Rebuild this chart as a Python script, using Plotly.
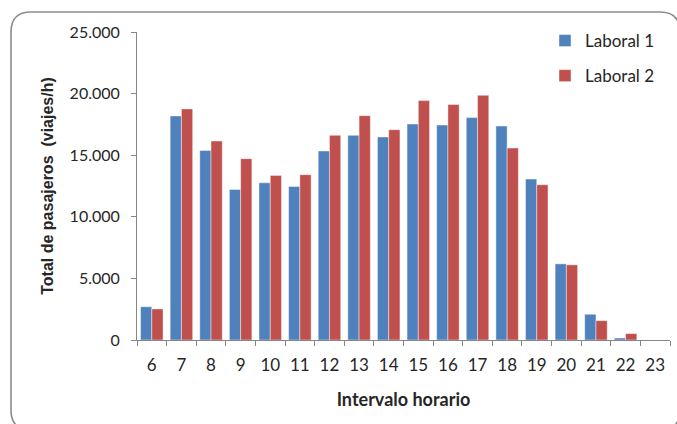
import plotly.graph_objects as go

# Hourly intervals and passenger totals (trips/h) for the two weekday samples
horas = [str(h) for h in range(6, 24)]
laboral_1 = [2700, 18190, 15390, 12220, 12760, 12460, 15340, 16610, 16480, 17530,
             17450, 18050, 17370, 13060, 6180, 2090, 160, 0]
laboral_2 = [2520, 18760, 16150, 14720, 13360, 13420, 16610, 18210, 17070, 19430,
             19110, 19860, 15580, 12600, 6100, 1570, 520, 0]
y_ticks = [0, 5000, 10000, 15000, 20000, 25000]

AZUL = "#4F81BD"
ROJO = "#C0504D"
GRIS = "#868686"
TXT = "#262626"

W, H = 677, 424
L, R, T, B = 137, 7, 32, 84
PW, PH = W - L - R, H - T - B


def px(x):
    return (x - L) / PW


def py(y):
    return (H - B - y) / PH


fig = go.Figure()
fig.add_trace(go.Bar(x=horas, y=laboral_1, name="Laboral 1", legendgroup="a",
                     marker=dict(color=AZUL, line=dict(color="rgba(255,255,255,0.55)", width=0.8))))
fig.add_trace(go.Bar(x=horas, y=laboral_2, name="Laboral 2", legendgroup="b",
                     marker=dict(color=ROJO, line=dict(color="rgba(255,255,255,0.55)", width=0.8))))

# rounded chart-area frame
x0, y0, x1, y1, r = 11, 12, 680, 430, 20
frame = (f"M {px(x0)},{py(y0 + r)} "
         f"Q {px(x0)},{py(y0)} {px(x0 + r)},{py(y0)} "
         f"L {px(x1 - r)},{py(y0)} "
         f"Q {px(x1)},{py(y0)} {px(x1)},{py(y0 + r)} "
         f"L {px(x1)},{py(y1 - r)} "
         f"Q {px(x1)},{py(y1)} {px(x1 - r)},{py(y1)} "
         f"L {px(x0 + r)},{py(y1)} "
         f"Q {px(x0)},{py(y1)} {px(x0)},{py(y1 - r)} Z")

fig.update_layout(
    width=W, height=H,
    margin=dict(l=L, r=R, t=T, b=B),
    paper_bgcolor="white", plot_bgcolor="white",
    separators=",.",
    barmode="group", bargap=0.24, bargroupgap=0,
    font=dict(family="Lato, 'Open Sans', sans-serif", color=TXT, size=15),
    shapes=[dict(type="path", path=frame, xref="paper", yref="paper",
                 line=dict(color="#8C8C8C", width=1.6), layer="below")],
    legend=dict(x=px(545), y=py(23), xanchor="left", yanchor="top",
                traceorder="grouped", tracegroupgap=10,
                font=dict(size=17, color=TXT), bgcolor="rgba(0,0,0,0)",
                itemwidth=30),
    xaxis=dict(type="category", showline=True, linecolor=GRIS, linewidth=1,
               ticks="outside", tickson="boundaries", ticklen=5, tickcolor=GRIS,
               showgrid=False, tickfont=dict(size=17, color=TXT),
               ticklabelstandoff=10,
               title=dict(text="<b>Intervalo horario</b>", standoff=18,
                          font=dict(size=18, color=TXT))),
    yaxis=dict(range=[0, 25000], tickvals=y_ticks, tickformat=",d",
               showline=True, linecolor=GRIS, linewidth=1,
               ticks="outside", ticklen=5, tickcolor=GRIS, showgrid=False,
               zeroline=False, tickfont=dict(size=16, color=TXT),
               ticklabelstandoff=8,
               title=dict(text="<b>Total de pasajeros  (viajes/h)</b>", standoff=12,
                          font=dict(family="'Liberation Sans', Arial, sans-serif",
                                    size=16, color=TXT))),
)

fig.write_html("out.html")
